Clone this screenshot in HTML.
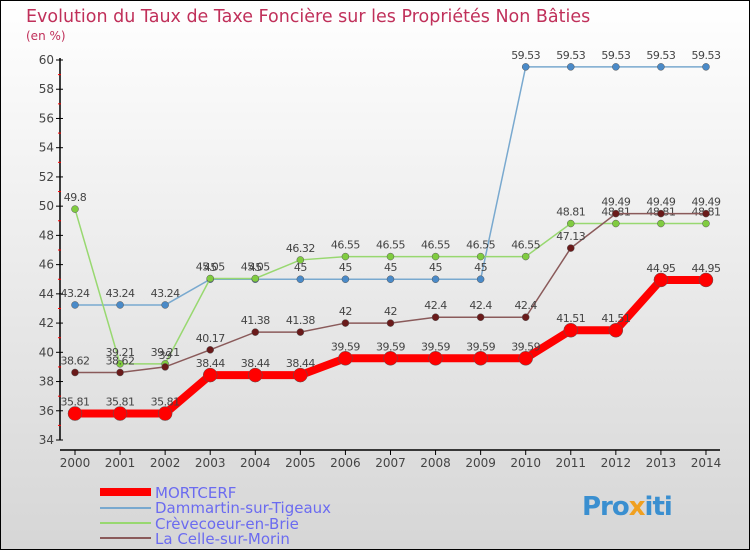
<!DOCTYPE html>
<html><head><meta charset="utf-8"><style>
body{margin:0;width:750px;height:550px;overflow:hidden;font-family:"DejaVu Sans","Liberation Sans",sans-serif}
#c{position:absolute;left:0;top:0;width:748px;height:548px;border:1px solid #000;background:linear-gradient(#fff,#d6d6d6)}
</style></head><body>
<div id="c">
<svg id="s" width="750" height="550" style="position:absolute;left:-1px;top:-1px" font-family="DejaVu Sans, Liberation Sans, sans-serif">
<text x="26" y="22" font-size="17.5" fill="#c0305a">Evolution du Taux de Taxe Foncière sur les Propriétés Non Bâties</text>
<text x="26" y="40" font-size="12" fill="#c0305a">(en %)</text>
<g id="axes"></g><g id="series"></g>
<g>
<line x1="100" y1="492" x2="151" y2="492" stroke="#f00" stroke-width="8"/>
<text x="155" y="498" font-size="15" fill="#6b6bf0">MORTCERF</text>
<line x1="100" y1="508" x2="151" y2="508" stroke="#79a9cf" stroke-width="2"/>
<text x="155" y="513" font-size="15" fill="#6b6bf0">Dammartin-sur-Tigeaux</text>
<line x1="100" y1="523" x2="151" y2="523" stroke="#98d870" stroke-width="2"/>
<text x="155" y="529" font-size="15" fill="#6b6bf0">Crèvecoeur-en-Brie</text>
<line x1="100" y1="538" x2="151" y2="538" stroke="#8a5a5a" stroke-width="2"/>
<text x="155" y="544" font-size="15" fill="#6b6bf0">La Celle-sur-Morin</text>
</g>
<text x="582" y="515" font-size="26" font-weight="bold" fill="#3a8fd0" letter-spacing="-1">Pro<tspan fill="#f0a020">x</tspan>iti</text>
</svg></div>
<script>
const years=[2000,2001,2002,2003,2004,2005,2006,2007,2008,2009,2010,2011,2012,2013,2014];
const yTicks=[34,36,38,40,42,44,46,48,50,52,54,56,58,60];
const mortcerf=[35.81,35.81,35.81,38.44,38.44,38.44,39.59,39.59,39.59,39.59,39.59,41.51,41.51,44.95,44.95];
const dammartin=[43.24,43.24,43.24,45,45,45,45,45,45,45,59.53,59.53,59.53,59.53,59.53];
const crevecoeur=[49.8,39.21,39.21,45.05,45.05,46.32,46.55,46.55,46.55,46.55,46.55,48.81,48.81,48.81,48.81];
const laCelle=[38.62,38.62,39,40.17,41.38,41.38,42,42,42.4,42.4,42.4,47.13,49.49,49.49,49.49];
const NS="http://www.w3.org/2000/svg";
const X=i=>75+i*45.07, Y=v=>440-(v-34)*(380/26);
function mk(t,a,p){const e=document.createElementNS(NS,t);for(const k in a)e.setAttribute(k,a[k]);p.appendChild(e);return e;}
const ax=document.getElementById('axes'),sg=document.getElementById('series');
let l=mk('line',{x1:60,y1:58,x2:60,y2:440,stroke:'#000','stroke-width':1.5},ax);

l=mk('line',{x1:60,y1:450,x2:720,y2:450,stroke:'#000','stroke-width':1.5},ax);

yTicks.forEach(v=>{const y=Y(v);mk('line',{x1:56,y1:y,x2:63,y2:y,stroke:'#000'},ax);
 if(v<60)mk('line',{x1:58,y1:y-14.6,x2:61,y2:y-14.6,stroke:'#f00'},ax);
 const t=mk('text',{x:54,y:y+4,'font-size':12,fill:'#444','text-anchor':'end'},ax);t.textContent=v;
 });
years.forEach((yr,i)=>{const x=X(i);mk('line',{x1:x,y1:450,x2:x,y2:455,stroke:'#000'},ax);
 const t=mk('text',{x:x,y:467,'font-size':12,fill:'#444','text-anchor':'middle'},ax);t.textContent=yr;
 });
function series(d,col,w,r,dot,name){
 const g=mk('g',{},sg);
 mk('polyline',{points:d.map((v,i)=>X(i)+','+Y(v)).join(' '),fill:'none',stroke:col,'stroke-width':w},g);
 d.forEach((v,i)=>{const c=mk('circle',{cx:X(i),cy:Y(v),r:r,fill:dot,stroke:'#555','stroke-width':0.5},g);
  
  const t=mk('text',{x:X(i),y:Y(v)-8,'font-size':11,fill:'#444','text-anchor':'middle','letter-spacing':'-0.5'},g);t.textContent=v;
  });
}
series(dammartin,'#79a9cf',1.5,3.5,'#4a8ac8','dammartin');
series(crevecoeur,'#98d870',1.5,3.5,'#80cc40','crevecoeur');
series(laCelle,'#8a5a5a',1.5,3.5,'#6a1a1a','la-celle');
series(mortcerf,'#f00',8,7,'#f00','mortcerf');
</script></body></html>
